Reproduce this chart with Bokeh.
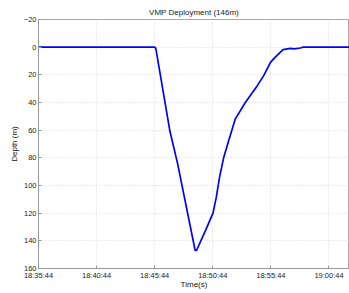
from bokeh.plotting import figure
from bokeh.models import Range1d, FixedTicker
from bokeh.embed import file_html
from bokeh.resources import INLINE

title = "VMP Deployment (146m)"
x_label = "Time(s)"
y_label = "Depth (m)"

times = ["18:35:44", "18:45:44", "18:45:50", "18:47:03", "18:47:42", "18:49:13",
         "18:49:20", "18:50:05", "18:50:45", "18:51:02", "18:51:19", "18:51:40",
         "18:52:06", "18:52:40", "18:53:32", "18:54:33", "18:55:07", "18:55:42",
         "18:55:58", "18:56:24", "18:56:47", "18:57:25", "18:57:44", "18:58:16",
         "18:58:32", "19:02:44"]
depth = [0, 0, 1, 61, 84, 147,
         147, 133, 120, 108.6, 94, 80,
         67.6, 52, 40, 28, 20.6, 11,
         8.5, 4.9, 1.8, 0.9, 1.2, 0.6,
         0, 0]

x_tick_labels = ["18:35:44", "18:40:44", "18:45:44", "18:50:44", "18:55:44", "19:00:44"]
y_ticks = [-20, 0, 20, 40, 60, 80, 100, 120, 140, 160]
x_start = "18:35:44"
x_end = "19:02:30"


def secs(s):
    h, m, sec = (int(v) for v in s.split(":"))
    return h * 3600 + m * 60 + sec


xs = [secs(t) for t in times]
xt = [secs(t) for t in x_tick_labels]

FONT = "Liberation Sans"

p = figure(frame_width=311, frame_height=249, output_backend="svg",
           toolbar_location=None, title=title,
           x_range=Range1d(secs(x_start), secs(x_end)),
           y_range=Range1d(160, -20),
           min_border_left=38, min_border_right=0, min_border_top=19, min_border_bottom=0)

p.line(xs, depth, line_color="#0000ff", line_width=1.7)

p.title.text_font = FONT
p.title.text_font_size = "8px"
p.title.text_font_style = "normal"
p.title.align = "center"
p.title.text_color = "#222222"
p.title.standoff = 5

p.xaxis.ticker = FixedTicker(ticks=xt)
p.xaxis.major_label_overrides = {v: l for v, l in zip(xt, x_tick_labels)}
p.yaxis.ticker = FixedTicker(ticks=y_ticks)

p.xaxis.axis_label = x_label
p.yaxis.axis_label = y_label
for ax in (p.xaxis, p.yaxis):
    ax.axis_label_text_font = FONT
    ax.axis_label_text_font_size = "8px"
    ax.axis_label_text_font_style = "normal"
    ax.axis_label_text_color = "#111111"
    ax.major_label_text_font = FONT
    ax.major_label_text_font_size = "7.5px"
    ax.major_label_text_color = "#222222"
    ax.axis_line_color = "#999999"
    ax.major_tick_line_color = "#999999"
    ax.major_tick_in = 3
    ax.major_tick_out = 0
    ax.minor_tick_line_color = None
    ax.major_label_standoff = 2
    ax.axis_label_standoff = 2
p.xaxis.axis_label_standoff = -3

p.grid.grid_line_color = "#d8d8d8"
p.grid.grid_line_dash = "1 2"
p.outline_line_color = "#aaaaaa"
p.background_fill_color = "white"
p.border_fill_color = "white"

open("out.html", "w").write(file_html(p, INLINE))
